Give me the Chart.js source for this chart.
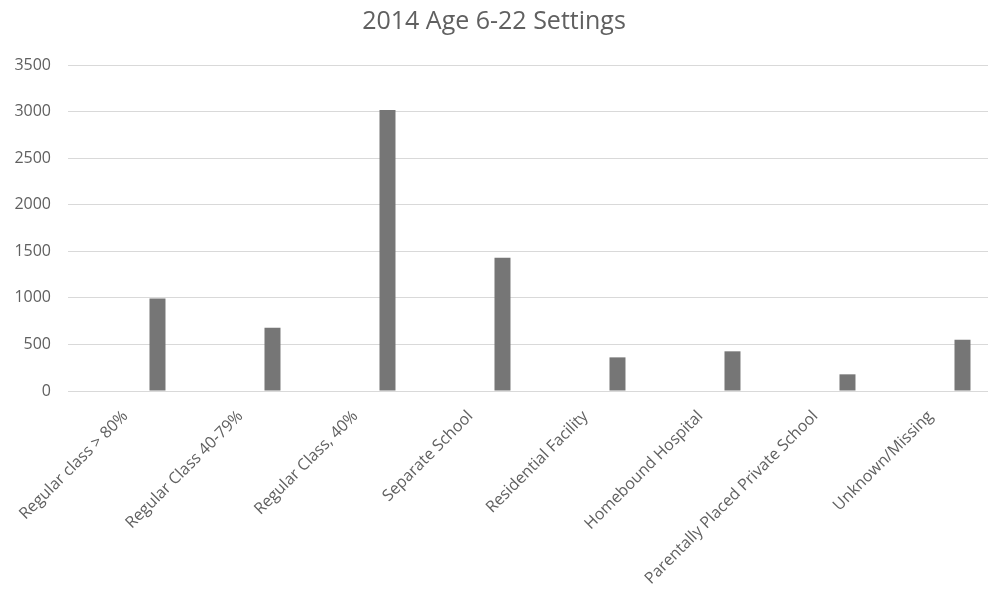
<!DOCTYPE html>
<html>
<head>
<meta charset="utf-8">
<script src="https://cdn.jsdelivr.net/npm/chart.js@4"></script>
<style>
  html, body { margin: 0; padding: 0; background: #fff; }
  #wrap { width: 988px; height: 590px; position: relative; }
</style>
</head>
<body>
<div id="wrap"><canvas id="c" width="988" height="590"></canvas></div>
<script>
const categories = [
  "Regular class > 80%",
  "Regular Class 40-79%",
  "Regular Class, 40%",
  "Separate School",
  "Residential Facility",
  "Homebound Hospital",
  "Parentally Placed Private School",
  "Unknown/Missing"
];
// Excel workbook had 5 series; only the last one holds values (others empty)
const series1 = [];
const series2 = [];
const series3 = [];
const series4 = [];
const settings2014 = [994, 680, 3017, 1430, 361, 426, 179, 551];
const yTicks = [0, 500, 1000, 1500, 2000, 2500, 3000, 3500];

const FONT = "'Open Sans', 'Liberation Sans', sans-serif";
const TEXT = '#595959';
const BAR = '#767676';

const seriesList = [series1, series2, series3, series4, settings2014];
const datasets = seriesList.map((d, i) => ({
  label: 'Series ' + (i + 1),
  data: d,
  backgroundColor: BAR,
  borderWidth: 0,
  categoryPercentage: 5 / (5 + 2.19),
  barPercentage: 1
}));

new Chart(document.getElementById('c'), {
  type: 'bar',
  data: { labels: categories, datasets: datasets },
  options: {
    responsive: false,
    animation: false,
    devicePixelRatio: 1,
    layout: { padding: 0 },
    plugins: {
      legend: { display: false },
      tooltip: { enabled: false },
      title: {
        display: true,
        text: '2014 Age 6-22 Settings',
        color: '#606060',
        font: { family: FONT, size: 25, weight: 'normal' },
        padding: { top: 7, bottom: 28 }
      }
    },
    scales: {
      x: {
        grid: { display: false },
        border: { display: true, color: '#d9d9d9', width: 1 },
        ticks: {
          color: '#606060',
          font: { family: FONT, size: 16 },
          maxRotation: 45,
          minRotation: 45,
          autoSkip: false,
          padding: 8
        },
        afterFit: (s) => { s.height = 199; }
      },
      y: {
        min: 0,
        max: 3500,
        afterBuildTicks: (s) => { s.ticks = yTicks.map(v => ({ value: v })); },
        grid: { color: '#d9d9d9', lineWidth: 1, drawTicks: false },
        border: { display: false },
        ticks: {
          color: '#606060',
          font: { family: FONT, size: 16 },
          padding: 17,
          callback: (v) => String(v)
        },
        afterFit: (s) => { s.width = 68; }
      }
    }
  }
});
</script>
</body>
</html>
